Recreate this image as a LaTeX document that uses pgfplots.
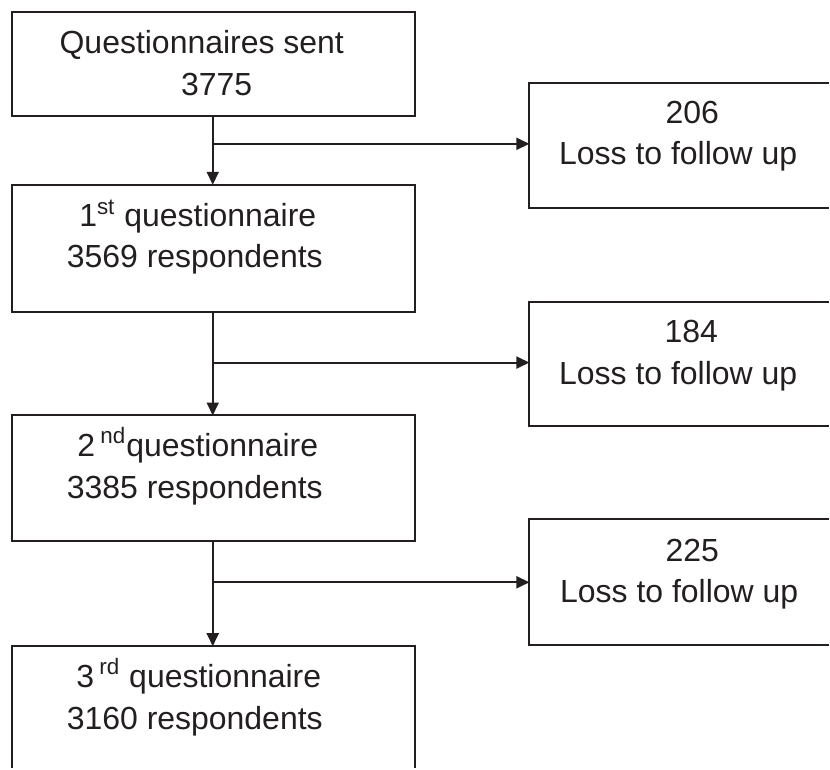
\documentclass[border=0pt]{standalone}
\usepackage{fontspec}
\setmainfont{Liberation Sans}
\usepackage{pgfplots}
\pgfplotsset{compat=1.18}
\usetikzlibrary{arrows.meta}
\definecolor{ink}{HTML}{231F20}
\begin{document}
\begin{tikzpicture}
\begin{axis}[scale only axis, width=415pt, height=384.5pt,
  xmin=0, xmax=830, ymin=0, ymax=769, y dir=reverse,
  hide axis, clip=false,
  ln/.style={draw=ink, solid, line width=1pt, mark=none, line join=miter},
  arr/.style={ln, -{Triangle[length=6.5pt,width=6pt]}}]
\addplot[draw=none, mark=none] coordinates {(0,0) (830,769)};
% left boxes
\addplot[ln] coordinates {(200,12) (415,12) (415,116) (12,116) (12,12) (200,12)};
\addplot[ln] coordinates {(200,185) (415,185) (415,312) (12,312) (12,185) (200,185)};
\addplot[ln] coordinates {(200,416) (415,416) (415,542) (12,542) (12,416) (200,416)};
\addplot[ln] coordinates {(12,769) (12,647) (415,647) (415,769)};
% right boxes (open to the right)
\addplot[ln] coordinates {(830,83) (530,83) (530,208) (830,208)};
\addplot[ln] coordinates {(830,302) (530,302) (530,427) (830,427)};
\addplot[ln] coordinates {(830,520) (530,520) (530,646) (830,646)};
% arrows
\addplot[arr, fill=ink] coordinates {(213,116) (213,185)};
\addplot[arr, fill=ink] coordinates {(213,144) (530,144)};
\addplot[arr, fill=ink] coordinates {(213,312) (213,416)};
\addplot[arr, fill=ink] coordinates {(213,363) (530,363)};
\addplot[arr, fill=ink] coordinates {(213,542) (213,647)};
\addplot[arr, fill=ink] coordinates {(213,583) (530,583)};
% texts
\begin{scope}[every node/.style={font=\fontsize{16}{19}\selectfont, text=ink, anchor=base, inner sep=0pt}]
\node at (axis cs:202,54) {Questionnaires sent};
\node at (axis cs:217,96) {3775};
\node at (axis cs:693,124) {206};
\node at (axis cs:679,165) {Loss to follow up};
\node at (axis cs:198,227) {1\textsuperscript{st} questionnaire};
\node at (axis cs:195,268) {3569 respondents};
\node at (axis cs:692,343) {184};
\node at (axis cs:679,385) {Loss to follow up};
\node at (axis cs:198,457) {2\,\textsuperscript{nd}questionnaire};
\node at (axis cs:195,499) {3385 respondents};
\node at (axis cs:693,562) {225};
\node at (axis cs:680,603) {Loss to follow up};
\node at (axis cs:199,688) {3\,\textsuperscript{rd} questionnaire};
\node at (axis cs:195,730) {3160 respondents};
\end{scope}
\end{axis}
\end{tikzpicture}
\end{document}
